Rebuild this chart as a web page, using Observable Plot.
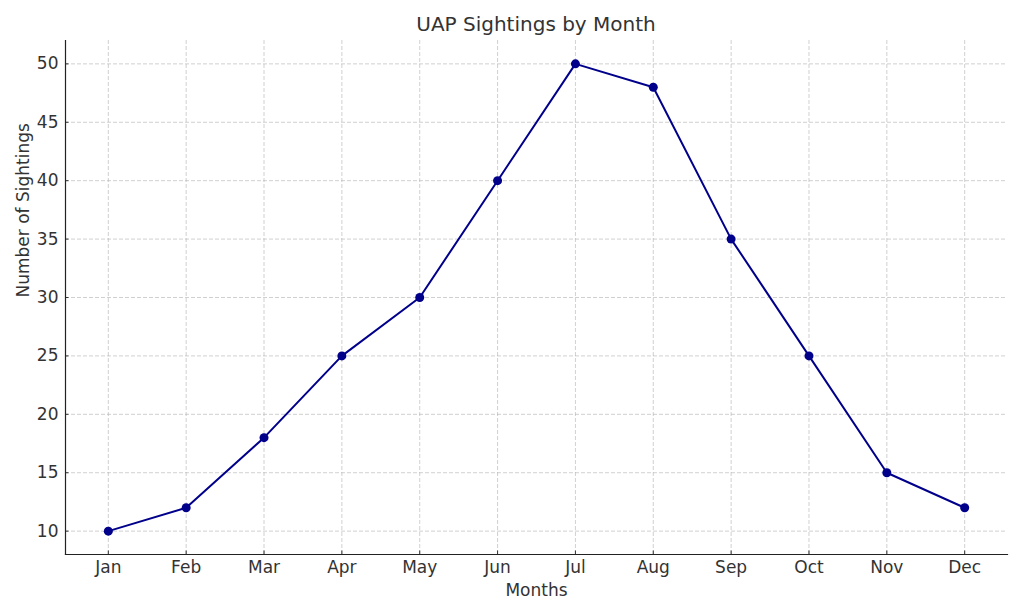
<!DOCTYPE html>
<html><head><meta charset="utf-8">
<script src="https://cdn.jsdelivr.net/npm/d3@7"></script>
<script src="https://cdn.jsdelivr.net/npm/@observablehq/plot@0.6"></script>
<style>
body{margin:0;background:#fff;font-family:"DejaVu Sans",sans-serif;}
#title{height:40px;width:1023px;position:relative;}
#title span{position:absolute;left:536px;top:12px;transform:translateX(-50%);font-size:20px;color:#333;white-space:nowrap;}
</style></head>
<body>
<div id="title"><span>UAP Sightings by Month</span></div>
<div id="chart"></div>
<script>
const months = ["Jan","Feb","Mar","Apr","May","Jun","Jul","Aug","Sep","Oct","Nov","Dec"];
const sightings = [10,12,18,25,30,40,50,48,35,25,15,12];
const yTicks = [10,15,20,25,30,35,40,45,50];

const data = months.map((m,i)=>({i, month:m, value:sightings[i]}));
const xIdx = months.map((m,i)=>i);

const chart = Plot.plot({
  width:1023, height:574,
  marginLeft:65, marginRight:16, marginTop:0, marginBottom:60,
  style:{fontFamily:"DejaVu Sans, sans-serif", fontSize:"17px", color:"#333", background:"#fff"},
  x:{type:"linear", domain:[-0.55,11.55], label:null},
  y:{domain:[8,52], label:null},
  marks:[
    Plot.gridX(xIdx,{stroke:"#b0b0b0", strokeOpacity:0.75, strokeDasharray:"4,2", strokeWidth:0.8}),
    Plot.gridY(yTicks,{stroke:"#b0b0b0", strokeOpacity:0.75, strokeDasharray:"4,2", strokeWidth:0.8}),
    Plot.axisX(xIdx,{tickSize:-3.5, tickPadding:10, tickFormat:i=>months[i], stroke:"#333", fill:"#333", fontSize:17, label:null}),
    Plot.axisY(yTicks,{tickSize:-3.5, tickPadding:10.5, stroke:"#333", fill:"#333", fontSize:17, label:null}),
    Plot.text(["Months"],{frameAnchor:"bottom", dy:41, fontSize:17, fill:"#333"}),
    Plot.text(["Number of Sightings"],{frameAnchor:"left", dx:-42, rotate:-90, fontSize:17, fill:"#333"}),
    Plot.frame({anchor:"left", stroke:"#222", strokeWidth:1.2}),
    Plot.frame({anchor:"bottom", stroke:"#222", strokeWidth:1.2}),
    Plot.line(data,{x:"i", y:"value", stroke:"#00008b", strokeWidth:2}),
    Plot.dot(data,{x:"i", y:"value", r:4.5, fill:"#00008b", stroke:"none"})
  ]
});
document.getElementById("chart").appendChild(chart);
</script>
</body></html>
